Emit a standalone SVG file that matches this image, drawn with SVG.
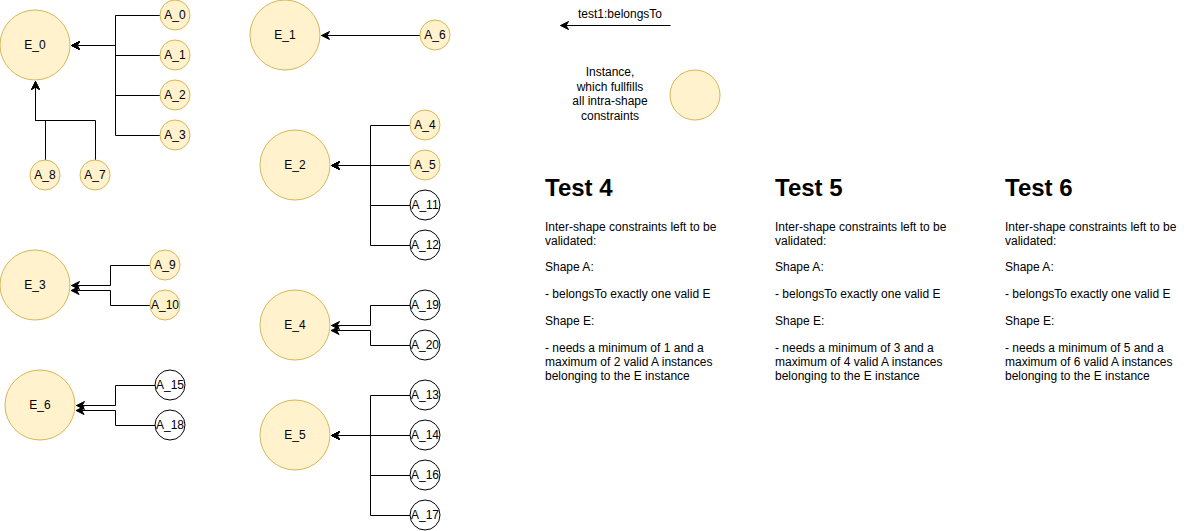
<svg xmlns="http://www.w3.org/2000/svg" width="1201" height="531" viewBox="0 0 1201 531">
<defs>
<style>
.v{fill:#fff2cc;stroke:#d6b656;stroke-width:1}
.w{fill:#ffffff;stroke:#000000;stroke-width:1}
.t{font-family:"Liberation Sans",Arial,Helvetica,sans-serif;font-size:12px;fill:#000000}
.c{text-anchor:middle}
.h{font-family:"Liberation Sans",Arial,Helvetica,sans-serif;font-size:24px;font-weight:bold;fill:#000000}
.e{fill:none;stroke:#000000;stroke-width:1;marker-end:url(#arr)}
</style>
<marker id="arr" viewBox="-9 -5 10 10" markerWidth="10" markerHeight="10" refX="0" refY="0" orient="auto" markerUnits="userSpaceOnUse">
<path d="M0,0 L-8,-4 L-5.5,0 L-8,4 Z" fill="#000000" stroke="#000000" stroke-width="1"/>
</marker>
</defs>
<rect width="1201" height="531" fill="#ffffff"/>

<g id="connectors" transform="translate(0.5,0.5)">
<path class="e" d="M160,15 H115 V45 H71"/>
<path class="e" d="M160,55 H115 V45 H71"/>
<path class="e" d="M160,95 H115 V45 H71"/>
<path class="e" d="M160,135 H115 V45 H71"/>
<path class="e" d="M45,160 V120 H35 V81"/>
<path class="e" d="M95,160 V120 H35 V81"/>
<path class="e" d="M420,35 H321"/>
<path class="e" d="M410,125 H370 V165 H331"/>
<path class="e" d="M410,165 H331"/>
<path class="e" d="M410,205 H370 V165 H331"/>
<path class="e" d="M410,245 H370 V165 H331"/>
<path class="e" d="M150,265 H110 V285 H71"/>
<path class="e" d="M150,305 H110 V290 H70.6"/>
<path class="e" d="M155,385 H115 V405 H76"/>
<path class="e" d="M155,425 H115 V410 H75.6"/>
<path class="e" d="M410,305 H370 V325 H331"/>
<path class="e" d="M410,345 H370 V330 H330.6"/>
<path class="e" d="M410,395 H370 V435 H331"/>
<path class="e" d="M410,435 H331"/>
<path class="e" d="M410,475 H370 V435 H331"/>
<path class="e" d="M410,515 H370 V435 H331"/>
<path class="e" d="M670,25 H560"/>
</g>

<g id="E_0"><circle class="v" cx="35" cy="45" r="35"/><text class="t c" x="35" y="49">E_0</text></g>
<g id="A_0"><circle class="v" cx="175" cy="15" r="15"/><text class="t c" x="175" y="19">A_0</text></g>
<g id="A_1"><circle class="v" cx="175" cy="55" r="15"/><text class="t c" x="175" y="59">A_1</text></g>
<g id="A_2"><circle class="v" cx="175" cy="95" r="15"/><text class="t c" x="175" y="99">A_2</text></g>
<g id="A_3"><circle class="v" cx="175" cy="135" r="15"/><text class="t c" x="175" y="139">A_3</text></g>
<g id="A_8"><circle class="v" cx="45" cy="175" r="15"/><text class="t c" x="45" y="179">A_8</text></g>
<g id="A_7"><circle class="v" cx="95" cy="175" r="15"/><text class="t c" x="95" y="179">A_7</text></g>

<g id="E_1"><circle class="v" cx="285" cy="35" r="35"/><text class="t c" x="285" y="39">E_1</text></g>
<g id="A_6"><circle class="v" cx="435" cy="35" r="15"/><text class="t c" x="435" y="39">A_6</text></g>

<g id="E_2"><circle class="v" cx="295" cy="165" r="35"/><text class="t c" x="295" y="169">E_2</text></g>
<g id="A_4"><circle class="v" cx="425" cy="125" r="15"/><text class="t c" x="425" y="129">A_4</text></g>
<g id="A_5"><circle class="v" cx="425" cy="165" r="15"/><text class="t c" x="425" y="169">A_5</text></g>
<g id="A_11"><circle class="w" cx="425" cy="205" r="15"/><text class="t c" x="425" y="209">A_11</text></g>
<g id="A_12"><circle class="w" cx="425" cy="245" r="15"/><text class="t c" x="425" y="249">A_12</text></g>

<g id="E_3"><circle class="v" cx="35" cy="285" r="35"/><text class="t c" x="35" y="289">E_3</text></g>
<g id="A_9"><circle class="v" cx="165" cy="265" r="15"/><text class="t c" x="165" y="269">A_9</text></g>
<g id="A_10"><circle class="v" cx="165" cy="305" r="15"/><text class="t c" x="165" y="309">A_10</text></g>

<g id="E_6"><circle class="v" cx="40" cy="405" r="35"/><text class="t c" x="40" y="409">E_6</text></g>
<g id="A_15"><circle class="w" cx="170" cy="385" r="15"/><text class="t c" x="170" y="389">A_15</text></g>
<g id="A_18"><circle class="w" cx="170" cy="425" r="15"/><text class="t c" x="170" y="429">A_18</text></g>

<g id="E_4"><circle class="v" cx="295" cy="325" r="35"/><text class="t c" x="295" y="329">E_4</text></g>
<g id="A_19"><circle class="w" cx="425" cy="305" r="15"/><text class="t c" x="425" y="309">A_19</text></g>
<g id="A_20"><circle class="w" cx="425" cy="345" r="15"/><text class="t c" x="425" y="349">A_20</text></g>

<g id="E_5"><circle class="v" cx="295" cy="435" r="35"/><text class="t c" x="295" y="439">E_5</text></g>
<g id="A_13"><circle class="w" cx="425" cy="395" r="15"/><text class="t c" x="425" y="399">A_13</text></g>
<g id="A_14"><circle class="w" cx="425" cy="435" r="15"/><text class="t c" x="425" y="439">A_14</text></g>
<g id="A_16"><circle class="w" cx="425" cy="475" r="15"/><text class="t c" x="425" y="479">A_16</text></g>
<g id="A_17"><circle class="w" cx="425" cy="515" r="15"/><text class="t c" x="425" y="519">A_17</text></g>

<g id="legend">
<text class="t c" x="620" y="18">test1:belongsTo</text>
<text class="t c" x="610" y="76">Instance,</text>
<text class="t c" x="610" y="90.5">which fullfills</text>
<text class="t c" x="610" y="105">all intra-shape</text>
<text class="t c" x="610" y="119.5">constraints</text>
<circle class="v" cx="695" cy="95" r="25"/>
</g>

<g id="test4">
<text class="h" x="545" y="196">Test 4</text>
<text class="t" x="545" y="231">Inter-shape constraints left to be</text>
<text class="t" x="545" y="245">validated:</text>
<text class="t" x="545" y="271">Shape A:</text>
<text class="t" x="545" y="298">- belongsTo exactly one valid E</text>
<text class="t" x="545" y="325">Shape E:</text>
<text class="t" x="545" y="352">- needs a minimum of 1 and a</text>
<text class="t" x="545" y="366">maximum of 2 valid A instances</text>
<text class="t" x="545" y="380">belonging to the E instance</text>
</g>
<g id="test5">
<text class="h" x="775" y="196">Test 5</text>
<text class="t" x="775" y="231">Inter-shape constraints left to be</text>
<text class="t" x="775" y="245">validated:</text>
<text class="t" x="775" y="271">Shape A:</text>
<text class="t" x="775" y="298">- belongsTo exactly one valid E</text>
<text class="t" x="775" y="325">Shape E:</text>
<text class="t" x="775" y="352">- needs a minimum of 3 and a</text>
<text class="t" x="775" y="366">maximum of 4 valid A instances</text>
<text class="t" x="775" y="380">belonging to the E instance</text>
</g>
<g id="test6">
<text class="h" x="1005" y="196">Test 6</text>
<text class="t" x="1005" y="231">Inter-shape constraints left to be</text>
<text class="t" x="1005" y="245">validated:</text>
<text class="t" x="1005" y="271">Shape A:</text>
<text class="t" x="1005" y="298">- belongsTo exactly one valid E</text>
<text class="t" x="1005" y="325">Shape E:</text>
<text class="t" x="1005" y="352">- needs a minimum of 5 and a</text>
<text class="t" x="1005" y="366">maximum of 6 valid A instances</text>
<text class="t" x="1005" y="380">belonging to the E instance</text>
</g>
</svg>
